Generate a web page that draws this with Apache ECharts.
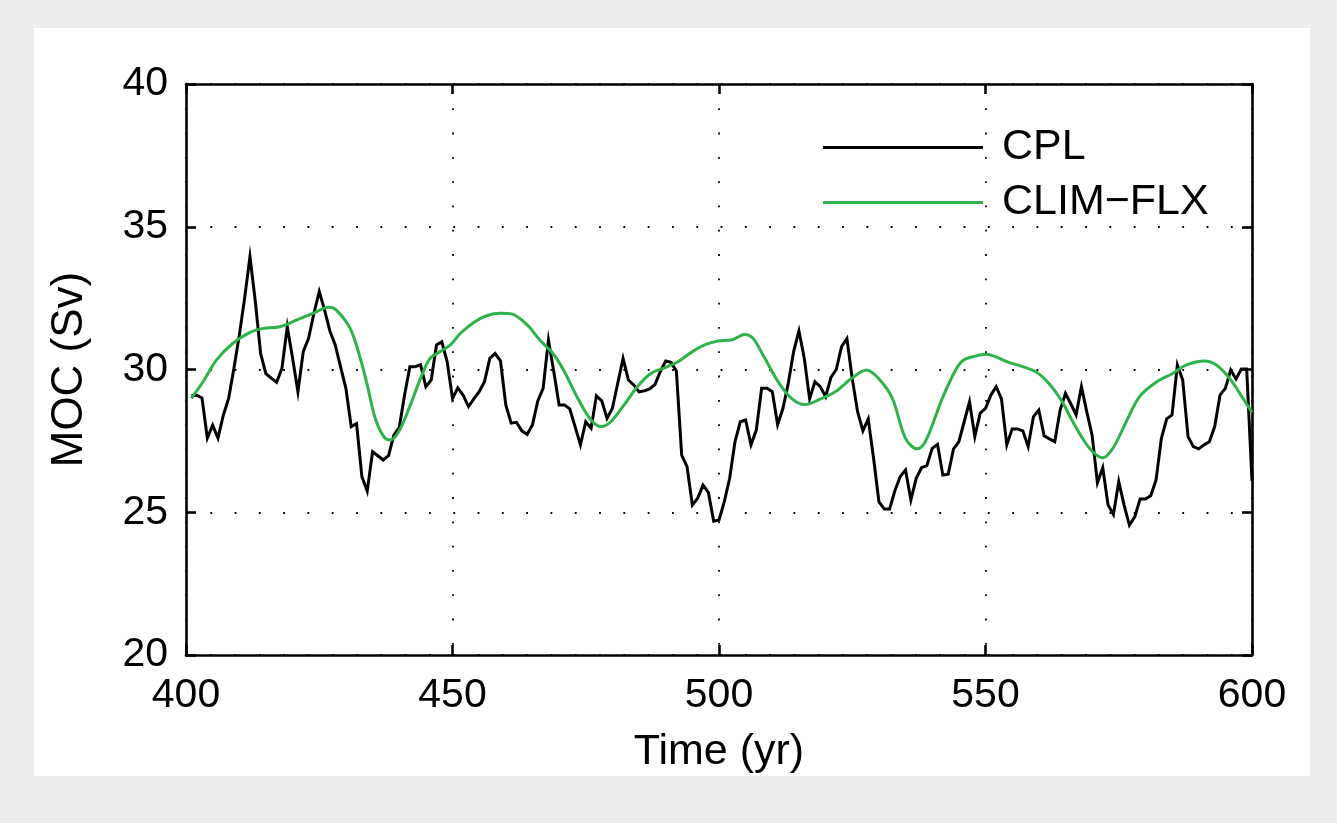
<!DOCTYPE html>
<html>
<head>
<meta charset="utf-8">
<script src="https://cdn.jsdelivr.net/npm/echarts@6/dist/echarts.min.js"></script>
<style>
html,body{margin:0;padding:0;background:#ececec;}
#chart{width:1337px;height:823px;}
</style>
</head>
<body>
<div id="chart"></div>
<script>
// ---- Data ----
const xTicks = [400, 450, 500, 550, 600];
const yTicks = [20, 25, 30, 35, 40];
const seriesNames = ['CPL', 'CLIM\u2212FLX'];
const cplStartYear = 401;
// CPL annual values, years 401..600
const cplValues = [
  29.08, 29.10, 29.00, 27.60, 28.05, 27.60, 28.40, 28.99, 30.05, 31.20,
  32.50, 33.95, 32.40, 30.56, 29.85, 29.70, 29.55, 30.04, 31.50, 30.39,
  29.22, 30.63, 31.09, 31.97, 32.73, 32.08, 31.35, 30.86, 30.09, 29.34,
  28.00, 28.10, 26.25, 25.74, 27.12, 26.98, 26.83, 26.98, 27.70, 27.96,
  29.10, 30.10, 30.10, 30.17, 29.40, 29.63, 30.86, 30.97, 30.27, 28.99,
  29.36, 29.10, 28.70, 28.97, 29.22, 29.57, 30.39, 30.56, 30.30, 28.76,
  28.12, 28.15, 27.85, 27.73, 28.06, 28.90, 29.34, 31.03, 29.93, 28.76,
  28.76, 28.62, 28.00, 27.36, 28.17, 27.94, 29.08, 28.90, 28.29, 28.64,
  29.52, 30.39, 29.63, 29.46, 29.22, 29.25, 29.32, 29.48, 29.93, 30.30,
  30.25, 29.95, 27.00, 26.60, 25.25, 25.49, 25.95, 25.70, 24.69, 24.73,
  25.37, 26.19, 27.47, 28.17, 28.23, 27.36, 27.88, 29.34, 29.34, 29.22,
  28.07, 28.64, 29.52, 30.63, 31.35, 30.39, 28.97, 29.57, 29.40, 29.05,
  29.72, 30.00, 30.80, 31.08, 29.68, 28.52, 27.85, 28.27, 26.89, 25.37,
  25.11, 25.11, 25.75, 26.25, 26.48, 25.43, 26.19, 26.56, 26.63, 27.24,
  27.38, 26.30, 26.33, 27.22, 27.47, 28.17, 28.87, 27.65, 28.47, 28.64,
  29.10, 29.40, 28.97, 27.36, 27.92, 27.92, 27.85, 27.30, 28.35, 28.58,
  27.68, 27.57, 27.47, 28.58, 29.16, 28.80, 28.41, 29.40, 28.52, 27.70,
  26.04, 26.56, 25.25, 24.92, 26.07, 25.25, 24.55, 24.84, 25.46, 25.46,
  25.58, 26.13, 27.59, 28.27, 28.41, 30.16, 29.63, 27.65, 27.30, 27.22,
  27.36, 27.47, 28.00, 29.10, 29.34, 29.98, 29.67, 30.02, 30.02, 26.10
];
// CLIM-FLX smooth curve, sampled points [year, value]
const climYears = [
  401, 403.2, 405.7, 408.8, 412, 414.5, 417.6, 420.7, 423.9, 426.8,
  428.2, 430.8, 432.7, 434, 435.5, 437.1, 438.3, 439.9, 442.1, 444,
  445.8, 447.7, 449.6, 451.5, 454, 456.5, 459, 461.2, 464, 466.3,
  469.1, 471, 473.5, 476, 477.9, 479.7, 482.2, 484.7, 487.2, 489.8,
  492.3, 494.8, 497.3, 499.8, 502.3, 504.8, 506.4, 508.6, 511.1, 513.6,
  516.1, 518.6, 521.8, 524.9, 527.7, 529.9, 532.5, 535, 537.2, 538.7,
  541.9, 544.4, 545.9, 548.1, 550, 554.4, 559.4, 561.9, 564.4, 566,
  568.2, 570.1, 572, 573.9, 576.4, 578.9, 582, 585.1, 587.7, 591.1,
  593.3, 595.8, 598.3, 600
];
const climValues = [
  28.99, 29.57, 30.33, 30.92, 31.30, 31.44, 31.50, 31.73, 31.97, 32.18,
  32.08, 31.44, 30.39, 29.46, 28.29, 27.65, 27.53, 27.82, 28.76, 29.69,
  30.39, 30.63, 30.86, 31.27, 31.65, 31.89, 31.97, 31.94, 31.56, 31.05,
  30.50, 29.92, 28.99, 28.23, 28.00, 28.17, 28.76, 29.40, 29.86, 30.06,
  30.27, 30.60, 30.86, 31.00, 31.03, 31.23, 31.09, 30.39, 29.57, 28.99,
  28.77, 28.93, 29.22, 29.69, 29.98, 29.69, 29.00, 27.59, 27.22, 27.47,
  28.99, 29.98, 30.33, 30.47, 30.53, 30.25, 29.92, 29.51, 28.87, 28.30,
  27.59, 27.12, 26.91, 27.24, 28.17, 29.05, 29.55, 29.86, 30.16, 30.30,
  30.16, 29.69, 28.99, 28.50
];

// ---- Build ----
const cplData = cplValues.map((v, i) => [cplStartYear + i, v]);
const climData = climYears.map((y, i) => [y, climValues[i]]);

const FONT = 'Liberation Sans, Arial, Helvetica, sans-serif';
const chart = echarts.init(document.getElementById('chart'), null, {renderer: 'canvas'});

const gridDots = {show: true, lineStyle: {color: '#000', width: 1.8, type: [1.8, 22.5]}};
const frame = {show: true, lineStyle: {color: '#000', width: 2.6}};
const ticks = {show: true, inside: true, length: 10, lineStyle: {color: '#000', width: 2.6}};
const baseX = {
  type: 'value', min: xTicks[0], max: xTicks[xTicks.length - 1], interval: 50
};
const baseY = {
  type: 'value', min: yTicks[0], max: yTicks[yTicks.length - 1], interval: 5
};

chart.setOption({
  backgroundColor: '#ececec',
  animation: false,
  graphic: [{
    type: 'rect', z: -10,
    shape: {x: 34, y: 28, width: 1276, height: 748},
    style: {fill: '#ffffff'}
  }],
  grid: {left: 186, top: 84, right: 85, bottom: 168, show: false},
  legend: {
    orient: 'vertical',
    left: 818, top: 121,
    itemWidth: 160, itemHeight: 3, itemGap: 12,
    icon: 'path://M0,0 L160,0 L160,3 L0,3 Z',
    textStyle: {fontFamily: FONT, fontSize: 43, color: '#000', padding: [0, 0, 0, 14]},
    data: seriesNames
  },
  xAxis: [
    Object.assign({}, baseX, {
      position: 'bottom',
      name: 'Time (yr)', nameLocation: 'middle', nameGap: 76,
      nameTextStyle: {fontFamily: FONT, fontSize: 43, color: '#000'},
      axisLine: frame,
      axisTick: ticks,
      axisLabel: {fontFamily: FONT, fontSize: 41, color: '#000', margin: 20,
        formatter: v => xTicks.includes(v) ? String(v) : ''},
      splitLine: gridDots
    }),
    Object.assign({}, baseX, {
      position: 'top',
      axisLine: frame,
      axisTick: ticks,
      axisLabel: {show: false},
      splitLine: {show: false}
    })
  ],
  yAxis: [
    Object.assign({}, baseY, {
      position: 'left',
      name: 'MOC (Sv)', nameLocation: 'middle', nameGap: 94, nameRotate: 90,
      nameTextStyle: {fontFamily: FONT, fontSize: 44, color: '#000'},
      axisLine: frame,
      axisTick: ticks,
      axisLabel: {fontFamily: FONT, fontSize: 41, color: '#000', margin: 18,
        formatter: v => yTicks.includes(v) ? String(v) : ''},
      splitLine: gridDots
    }),
    Object.assign({}, baseY, {
      position: 'right',
      axisLine: frame,
      axisTick: ticks,
      axisLabel: {show: false},
      splitLine: {show: false}
    })
  ],
  series: [
    {
      name: seriesNames[0], type: 'line', data: cplData,
      xAxisIndex: 0, yAxisIndex: 0,
      showSymbol: false, symbol: 'none',
      lineStyle: {color: '#000', width: 3, join: 'miter'},
      itemStyle: {color: '#000'},
      z: 3
    },
    {
      name: seriesNames[1], type: 'line', data: climData,
      xAxisIndex: 0, yAxisIndex: 0,
      showSymbol: false, symbol: 'none', smooth: 0.35,
      lineStyle: {color: '#2db34a', width: 3},
      itemStyle: {color: '#2db34a'},
      z: 4
    }
  ]
});
</script>
</body>
</html>
